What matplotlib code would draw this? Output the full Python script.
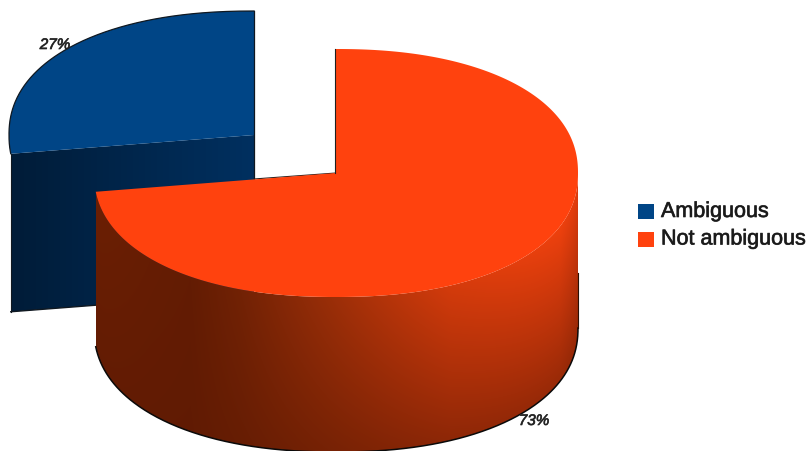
import matplotlib
matplotlib.use('Agg')
import matplotlib.pyplot as plt
import matplotlib.patches as patches
import matplotlib.patheffects as pe
from matplotlib.colors import to_rgb
import numpy as np

labels = ['Ambiguous', 'Not ambiguous']
shares = [27, 73]
top_colors = ['#004586', '#ff420e']

plt.rcParams['font.family'] = ['Liberation Sans', 'DejaVu Sans']

# layout in pixels of the 812x451 picture
RX_B, RY_B, CX_B, CY_B, DEPTH_B = 245, 124, 254, 135, 158
RX_O, RY_O, CX_O, CY_O, DEPTH_O = 242, 124, 336, 173, 155
ROUND = 2 / 2.2  # the rims are a bit fuller than a true ellipse

cut = 90 + shares[0] / sum(shares) * 360  # angle where the two slices meet


def arc(cx, cy, rx, ry, a0, a1, n=300):
    t = np.radians(np.linspace(a0, a1, n))
    c, s = np.cos(t), np.sin(t)
    return np.column_stack([cx + rx * np.sign(c) * np.abs(c) ** ROUND,
                            cy - ry * np.sign(s) * np.abs(s) ** ROUND])


def shaded(ax, pts, rgb, z):
    # gradient image clipped to the polygon
    x0, x1 = pts[:, 0].min(), pts[:, 0].max()
    y0, y1 = pts[:, 1].min(), pts[:, 1].max()
    poly = patches.Polygon(pts, closed=True, fc='none', ec='none', transform=ax.transData)
    ax.add_patch(poly)
    im = ax.imshow(rgb, extent=(x0, x1, y1, y0), aspect='auto', interpolation='bilinear', zorder=z)
    im.set_clip_path(poly)
    return im


fig = plt.figure(figsize=(8.12, 4.51), dpi=100)
ax = fig.add_axes([0, 0, 1, 1])
ax.axis('off')

# --- blue slice ---
a_top = arc(CX_B, CY_B, RX_B, RY_B, 90, cut)
edge_b = a_top[-1]
face = np.array([[CX_B, CY_B], edge_b, edge_b + [0, DEPTH_B], [CX_B, CY_B + DEPTH_B]])
xx = np.linspace(0, 1, 200)
c0, c1 = np.array(to_rgb('#001c38')), np.array(to_rgb('#003060'))
img = (c0 + (c1 - c0) * xx[:, None])[None, :, :]
shaded(ax, face, img, 2)
ax.add_patch(patches.Polygon(np.vstack([[CX_B, CY_B], a_top]), closed=True, fc=top_colors[0], ec='none', zorder=3))
ax.plot(a_top[:, 0], a_top[:, 1], color='#101820', lw=0.9, zorder=4)
ax.plot([CX_B, CX_B], [CY_B - RY_B, CY_B + 45], color='#101820', lw=0.9, zorder=4)
ax.plot([edge_b[0], edge_b[0]], [edge_b[1], edge_b[1] + DEPTH_B], color='#101820', lw=0.8, zorder=4)
ax.plot([edge_b[0], CX_B], [edge_b[1] + DEPTH_B, CY_B + DEPTH_B], color='#101820', lw=1.0, zorder=4)

# --- orange slice ---
end = 90 - shares[1] / sum(shares) * 360
front_top = arc(CX_O, CY_O, RX_O, RY_O, end, 0)
front_bot = front_top + [0, DEPTH_O]
wall = np.vstack([front_top, front_bot[::-1]])

# wall shading: brighter towards the right, fading to the dark brown downwards
gy, gx = np.mgrid[wall[:, 1].min():wall[:, 1].max():200j, wall[:, 0].min():wall[:, 0].max():400j]
stops_x = [96, 150, 190, 240, 330, 450, 560, 578]
stops_c = np.array([to_rgb(c) for c in ['#6b1f04', '#661d04', '#631c03', '#722205', '#9a2e08', '#d43b0c', '#ee410e', '#e03c0d']])
rgb = np.stack([np.interp(gx, stops_x, stops_c[:, i]) for i in range(3)], axis=-1)
rim = CY_O + RY_O * (1 - np.clip(np.abs((gx - CX_O) / RX_O), 0, 1) ** 2.2) ** (1 / 2.2)
depth = np.clip((gy - rim) / DEPTH_O, 0, 1)[..., None]
dark = np.array(to_rgb('#5f1a03'))
rgb = dark + (rgb - dark) * (1 - 0.6 * depth)
shaded(ax, wall, rgb, 5)

top_pts = np.vstack([[CX_O, CY_O], arc(CX_O, CY_O, RX_O, RY_O, 90, end, 500)])
ax.add_patch(patches.Polygon(top_pts, closed=True, fc=top_colors[1], ec='none', zorder=6))
ax.plot(front_bot[:, 0], front_bot[:, 1], color='#0a0a0a', lw=1.1, zorder=7)
ax.plot([wall[:, 0].max()] * 2, [CY_O + 100, CY_O + DEPTH_O], color='#2a1005', lw=0.8, zorder=7)
ax.plot([CX_O - 0.5, CX_O - 0.5], [CY_O - RY_O, CY_O], color='#202020', lw=0.8, zorder=7)
ax.plot([CX_B, CX_O], [CY_O + 6, CY_O], color='#202020', lw=0.8, zorder=5.5)

# --- percentages ---
heavy = [pe.withStroke(linewidth=0.5, foreground='#333333')]
ax.text(55, 45, f'{shares[0]}%', fontsize=11, style='italic', color='#222222', ha='center', va='center',
        zorder=8, path_effects=heavy)
ax.text(534, 421, f'{shares[1]}%', fontsize=11, style='italic', color='#222222', ha='center', va='center',
        zorder=8, path_effects=heavy)

# --- legend ---
for i, (lab, col) in enumerate(zip(labels, top_colors)):
    y = 211.5 + i * 27.5
    ax.add_patch(patches.Rectangle((638, y - 7.5), 16, 15, fc=col, ec='none', zorder=8))
    ax.text(661, y, lab, fontsize=15.5, color='#1a1a1a', ha='left', va='center', zorder=8, path_effects=heavy)

ax.set_xlim(0, 812)
ax.set_ylim(451, 0)
fig.savefig('out.png', dpi=100)
